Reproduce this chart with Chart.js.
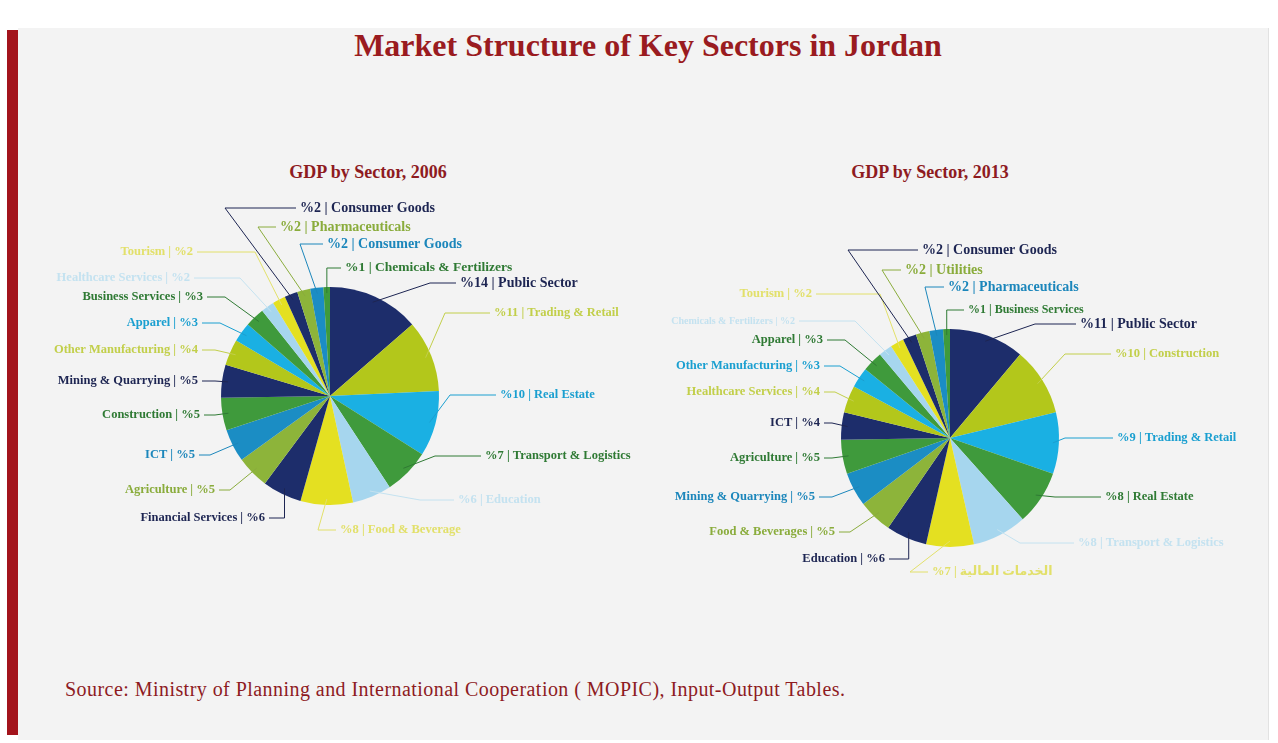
<!DOCTYPE html>
<html>
<head>
<meta charset="utf-8">
<script src="https://cdn.jsdelivr.net/npm/chart.js@4.4.1/dist/chart.umd.min.js"></script>
<style>
  body { margin: 0; background: #fff; width: 1278px; height: 743px; overflow: hidden; position: relative; font-family: "Liberation Serif", "DejaVu Serif", serif; }
  #panel { position: absolute; left: 18px; top: 28px; width: 1250px; height: 712px; background: #f3f3f3; border-right: 1px solid #e2e2e2; }
  #bar { position: absolute; left: 7px; top: 30px; width: 11px; height: 705px; background: #a3141c; }
  #title { position: absolute; left: 0; width: 1296px; top: 27px; text-align: center; font-size: 32px; font-weight: bold; color: #9a1b20; }
  .sub { position: absolute; top: 162px; width: 300px; text-align: center; font-size: 18px; font-weight: bold; color: #8e1b1f; }
  #source { position: absolute; left: 65px; top: 678px; font-size: 20px; letter-spacing: 0.45px; color: #8e1b1f; }
  canvas { position: absolute; }
</style>
</head>
<body>
<div id="panel"></div>
<div id="bar"></div>
<div id="title">Market Structure of Key Sectors in Jordan</div>
<div class="sub" style="left:218px">GDP by Sector, 2006</div>
<div class="sub" style="left:780px">GDP by Sector, 2013</div>
<div id="source">Source: Ministry of Planning and International Cooperation ( MOPIC), Input-Output Tables.</div>
<div style="position:absolute;left:50px;top:170px;width:600px;height:450px"><canvas id="pie2006"></canvas></div>
<div style="position:absolute;left:670px;top:212px;width:600px;height:450px"><canvas id="pie2013"></canvas></div>
<script>
// data
const sectors2006 = ['Public Sector', 'Trading & Retail', 'Real Estate', 'Transport & Logistics', 'Education',
  'Food & Beverage', 'Financial Services', 'Agriculture', 'ICT', 'Construction', 'Mining & Quarrying',
  'Other Manufacturing', 'Apparel', 'Business Services', 'Healthcare Services', 'Tourism',
  'Consumer Goods', 'Pharmaceuticals', 'Consumer Goods', 'Chemicals & Fertilizers'];
const values2006 = [14, 11, 10, 7, 6, 8, 6, 5, 5, 5, 5, 4, 3, 3, 2, 2, 2, 2, 2, 1];

const sectors2013 = ['Public Sector', 'Construction', 'Trading & Retail', 'Real Estate', 'Transport & Logistics',
  'الخدمات المالية', 'Education', 'Food & Beverages', 'Mining & Quarrying', 'Agriculture', 'ICT',
  'Healthcare Services', 'Other Manufacturing', 'Apparel', 'Chemicals & Fertilizers', 'Tourism',
  'Consumer Goods', 'Utilities', 'Pharmaceuticals', 'Business Services'];
const values2013 = [11, 10, 9, 8, 8, 7, 6, 5, 5, 5, 4, 4, 3, 3, 2, 2, 2, 2, 2, 1];

// colour cycle used by the slices, and the matching label colours
const sliceColors = ['#1d2d6b', '#b3c71b', '#1ab0e3', '#3f9a3c', '#a6d6ee', '#e4e021', '#1d2d6b', '#8db43a', '#1b8dc4', '#3f9a3c'];
const textColors  = ['#1d2552', '#c2cf4a', '#1a9fd0', '#2f7a34', '#c4e2f0', '#e2e06a', '#1d2552', '#8aac3c', '#1b86bb', '#2f7a34'];

// label placement relative to the pie centre: [dx, dy, elbow dx (null = straight down), align, font size]
const layout2006 = [
  [130, -113, 100, 'left', 14], [164, -83, 115, 'left', 12.5], [170, -1, 120, 'left', 12.5], [155, 60, 105, 'left', 12.5],
  [128, 104, 90, 'left', 12.5], [10, 134, -12, 'left', 12.5], [-65, 122, null, 'right', 12.5], [-115, 94, -100, 'right', 12.5],
  [-135, 59, -120, 'right', 12.5], [-130, 19, -115, 'right', 12.5], [-132, -15, -115, 'right', 12.5], [-132, -46, -115, 'right', 12.5],
  [-132, -73, -110, 'right', 12.5], [-127, -99, -105, 'right', 12.5], [-140, -118, -90, 'right', 12.5], [-137, -144, -75, 'right', 12.5],
  [-30, -188, -105, 'left', 14], [-50, -169, -72, 'left', 14], [-3, -152, -30, 'left', 14], [15, -128, null, 'left', 13.5]
];
const layout2013 = [
  [130, -114, 85, 'left', 14], [165, -84, 115, 'left', 12.5], [167, 0, 115, 'left', 12.5], [155, 59, 105, 'left', 12.5],
  [128, 105, 70, 'left', 12.5], [-18, 134, -40, 'left', 12.5], [-65, 121, null, 'right', 12.5], [-115, 94, -100, 'right', 12.5],
  [-135, 59, -118, 'right', 12.5], [-130, 20, -118, 'right', 12.5], [-130, -15, -118, 'right', 12.5], [-130, -46, -115, 'right', 12.5],
  [-130, -72, -110, 'right', 12.5], [-127, -98, -105, 'right', 12.5], [-155, -117, -95, 'right', 10], [-138, -144, -70, 'right', 12.5],
  [-28, -188, -102, 'left', 14], [-45, -168, -68, 'left', 14], [-2, -151, -25, 'left', 14], [18, -128, null, 'left', 12]
];

// draws the leader lines and labels from the arcs' own geometry
const callouts = {
  id: 'callouts',
  afterDatasetsDraw(chart, args, opts) {
    const ctx = chart.ctx;
    const meta = chart.getDatasetMeta(0);
    const names = chart.data.labels;
    const vals = chart.data.datasets[0].data;
    meta.data.forEach((arc, i) => {
      const p = arc.getProps(['x', 'y', 'startAngle', 'endAngle', 'outerRadius'], true);
      const mid = (p.startAngle + p.endAngle) / 2;
      const r = p.outerRadius - 6;
      const sx = p.x + Math.cos(mid) * r;
      const sy = p.y + Math.sin(mid) * r;
      const [dx, dy, edx, align, size] = opts.layout[i];
      const lx = p.x + dx, ly = p.y + dy;
      const ex = edx === null ? sx : p.x + edx;
      const col = textColors[i % textColors.length];
      const text = align === 'left'
        ? '\u200E%' + vals[i] + ' | ' + names[i] + '\u200E'
        : '\u200E' + names[i] + '\u200E | %' + vals[i];

      ctx.save();
      ctx.strokeStyle = col;
      ctx.lineWidth = 1;
      ctx.beginPath();
      ctx.moveTo(sx, sy);
      ctx.lineTo(ex, ly);
      ctx.lineTo(align === 'left' ? lx - 4 : lx + 4, ly);
      ctx.stroke();
      ctx.fillStyle = col;
      ctx.font = 'bold ' + size + 'px "Liberation Serif", "DejaVu Sans", serif';
      ctx.direction = 'ltr';
      ctx.textAlign = align;
      ctx.textBaseline = 'middle';
      ctx.fillText(text, lx, ly);
      ctx.restore();
    });
  }
};

function makePie(id, names, vals, layout) {
  return new Chart(document.getElementById(id), {
    type: 'pie',
    data: {
      labels: names,
      datasets: [{
        data: vals,
        backgroundColor: names.map((n, i) => sliceColors[i % sliceColors.length]),
        borderWidth: 0
      }]
    },
    options: {
      responsive: true,
      maintainAspectRatio: false,
      animation: false,
      layout: { padding: { left: 171, right: 211, top: 117, bottom: 115 } },
      plugins: {
        legend: { display: false },
        tooltip: { enabled: false },
        callouts: { layout: layout }
      }
    },
    plugins: [callouts]
  });
}

const chart2006 = makePie('pie2006', sectors2006, values2006, layout2006);
const chart2013 = makePie('pie2013', sectors2013, values2013, layout2013);
</script>
</body>
</html>
